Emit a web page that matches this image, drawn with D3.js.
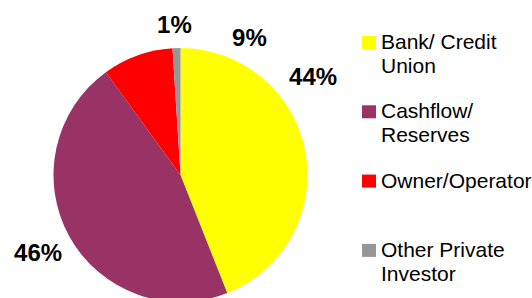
<!doctype html>
<meta charset='utf-8'>
<body style='margin:0;background:#fff'>
<script src='https://cdn.jsdelivr.net/npm/d3@7/dist/d3.min.js'></script>
<script>

var width = 532,
    height = 298;

// data
var categories = ['Bank/ Credit Union', 'Cashflow/ Reserves', 'Owner/Operator', 'Other Private Investor'];
var legendLines = [['Bank/ Credit', 'Union'], ['Cashflow/', 'Reserves'], ['Owner/Operator'], ['Other Private', 'Investor']];
var shares = [44, 46, 9, 1];
var colors = ['#ffff00', '#993366', '#ff0000', '#969696'];

var cx = 180.5, cy = 175, radius = 127;

// where excel put the labels (angle in degrees from 12 o'clock, distance from centre)
var labelPos = [[53.5, 165], [241.5, 162], [26.6, 154], [357.7, 151]];

var svg = d3.select('body').append('svg')
    .attr('width', width)
    .attr('height', height)
    .style('font-family', '"Liberation Sans", Arial, sans-serif');

var pie = d3.pie().sort(null).value(function(d) { return d; });
var arc = d3.arc().innerRadius(0).outerRadius(radius);

var arcs = pie(shares);

var g = svg.append('g').attr('transform', 'translate(' + cx + ',' + cy + ')');

g.selectAll('path')
    .data(arcs)
    .enter().append('path')
    .attr('d', arc)
    .attr('fill', function(d, i) { return colors[i]; });

g.selectAll('text.pct')
    .data(arcs)
    .enter().append('text')
    .attr('class', 'pct')
    .attr('x', function(d, i) { return Math.sin(labelPos[i][0] * Math.PI / 180) * labelPos[i][1]; })
    .attr('y', function(d, i) { return -Math.cos(labelPos[i][0] * Math.PI / 180) * labelPos[i][1]; })
    .attr('dy', '0.35em')
    .attr('text-anchor', 'middle')
    .style('font-size', '24px')
    .style('font-weight', 'bold')
    .text(function(d) { return d.data + '%'; });

// legend
var legend = svg.append('g').attr('class', 'legend');

var row = legend.selectAll('g')
    .data(categories)
    .enter().append('g')
    .attr('transform', function(d, i) { return 'translate(362,' + (49 + i * 69.3) + ')'; });

row.append('rect')
    .attr('x', 0)
    .attr('y', -13)
    .attr('width', 14)
    .attr('height', 13)
    .attr('fill', function(d, i) { return colors[i]; });

row.append('text')
    .attr('x', 19)
    .style('font-size', '21px')
    .attr('fill', '#000')
    .selectAll('tspan')
    .data(function(d, i) { return legendLines[i]; })
    .enter().append('tspan')
    .attr('x', 19)
    .attr('dy', function(d, j) { return j ? 24 : 0; })
    .text(function(d) { return d; });

</script>
